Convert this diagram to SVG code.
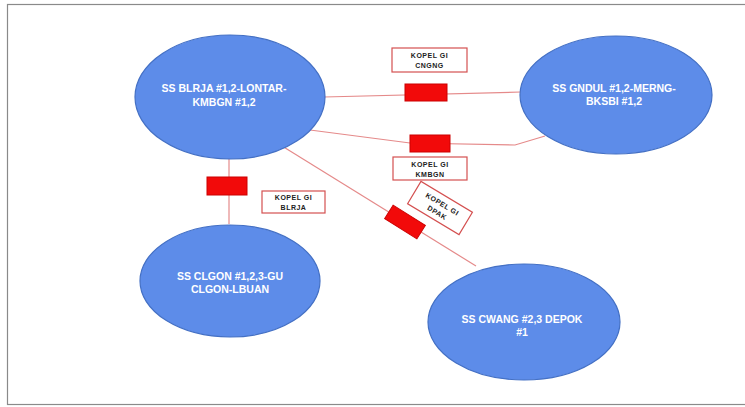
<svg xmlns="http://www.w3.org/2000/svg" width="745" height="407" viewBox="0 0 745 407">
<style>
.node{fill:#5D8CE9;stroke:#4470C4;stroke-width:1.2}
.nt{font-family:"Liberation Sans",Arial,sans-serif;font-size:10.5px;font-weight:bold;fill:#fff;text-anchor:middle}
.ln{stroke:#E58A8A;stroke-width:1.2;fill:none}
.sw{fill:#F20A0A;stroke:#C00;stroke-width:1}
.lb{fill:#fff;stroke:#D45050;stroke-width:1.2}
.lt{font-family:"Liberation Sans",Arial,sans-serif;font-size:7px;font-weight:bold;fill:#222;text-anchor:middle;letter-spacing:0.5px}
</style>
<rect x="0" y="0" width="745" height="407" fill="#fff"/>
<rect x="7.5" y="4.5" width="745" height="400" fill="none" stroke="#8a8a8a" stroke-width="1.2"/>
<g id="connectors">
<line class="ln" x1="324" y1="97" x2="521" y2="92"/>
<polyline class="ln" points="310,130 410,143 515,145 545,136"/>
<line class="ln" x1="229" y1="158" x2="229" y2="224"/>
<line class="ln" x1="282" y1="146" x2="476" y2="266"/>
<rect class="sw" x="405" y="84" width="42" height="17"/>
<rect class="sw" x="410" y="135" width="40" height="17"/>
<rect class="sw" x="207" y="177" width="40" height="18"/>
<rect class="sw" x="-19" y="-8" width="38" height="16" transform="translate(405 222) rotate(32)"/>
</g>
<g id="label-kopel-1">
<rect class="lb" x="392" y="48" width="75" height="24"/>
<text class="lt" x="429.5" y="58">KOPEL GI</text>
<text class="lt" x="429.5" y="68">CNGNG</text>
</g>
<g id="label-kopel-2">
<rect class="lb" x="393" y="157" width="74" height="23"/>
<text class="lt" x="430" y="167">KOPEL GI</text>
<text class="lt" x="430" y="177">KMBGN</text>
</g>
<g id="label-kopel-3">
<rect class="lb" x="262" y="191" width="63" height="22"/>
<text class="lt" x="293.5" y="200">KOPEL GI</text>
<text class="lt" x="293.5" y="210">BLRJA</text>
</g>
<g id="label-kopel-4" transform="translate(440 208) rotate(31)">
<rect class="lb" x="-30" y="-13" width="60" height="26"/>
<text class="lt" x="0" y="-2">KOPEL GI</text>
<text class="lt" x="0" y="8">DPAK</text>
</g>
<g id="node-blrja">
<ellipse class="node" cx="230" cy="97" rx="95" ry="62"/>
<text class="nt" x="224" y="92">SS BLRJA #1,2-LONTAR-</text>
<text class="nt" x="224" y="106">KMBGN #1,2</text>
</g>
<g id="node-gndul">
<ellipse class="node" cx="616" cy="95" rx="96" ry="59"/>
<text class="nt" x="614" y="92">SS GNDUL #1,2-MERNG-</text>
<text class="nt" x="614" y="105">BKSBI #1,2</text>
</g>
<g id="node-clgon">
<ellipse class="node" cx="230" cy="281" rx="90" ry="56"/>
<text class="nt" x="230" y="280">SS CLGON #1,2,3-GU</text>
<text class="nt" x="230" y="293">CLGON-LBUAN</text>
</g>
<g id="node-cwang">
<ellipse class="node" cx="524" cy="322" rx="96" ry="58"/>
<text class="nt" x="522" y="323">SS CWANG #2,3 DEPOK</text>
<text class="nt" x="522" y="336">#1</text>
</g>
</svg>
